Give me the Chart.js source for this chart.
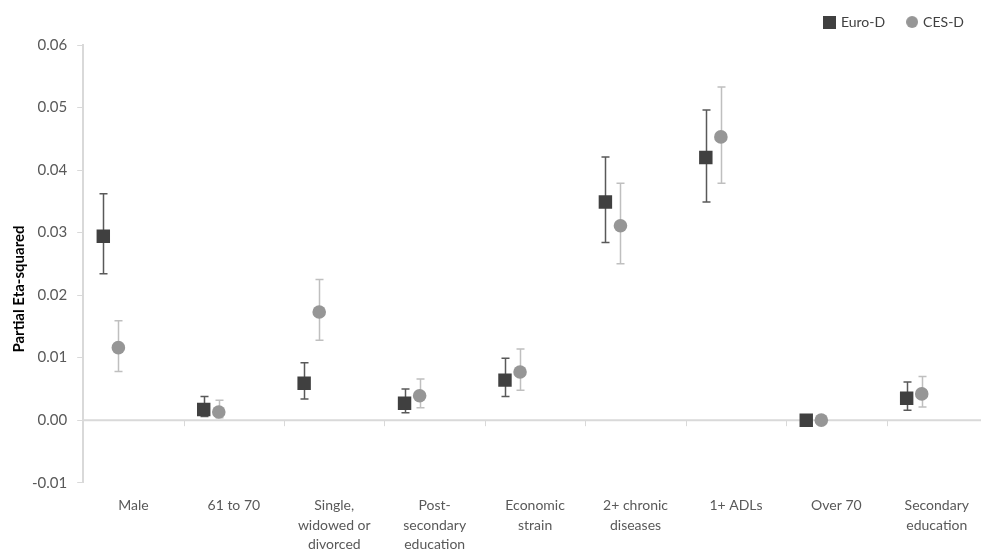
<!DOCTYPE html>
<html>
<head>
<meta charset="utf-8">
<script src="https://cdn.jsdelivr.net/npm/chart.js@4"></script>
<style>
  html, body { margin: 0; padding: 0; background: #ffffff; overflow: hidden; }
  #wrap { width: 981px; height: 556px; position: relative; overflow: hidden; }
</style>
</head>
<body>
<div id="wrap"><canvas id="c" width="1000" height="556"></canvas></div>
<script>
// ---- data ----
const categories = [
  ['Male'],
  ['61 to 70'],
  ['Single,', 'widowed or', 'divorced'],
  ['Post-', 'secondary', 'education'],
  ['Economic', 'strain'],
  ['2+ chronic', 'diseases'],
  ['1+ ADLs'],
  ['Over 70'],
  ['Secondary', 'education']
];
const euroD     = [0.0294, 0.0017, 0.0059, 0.0027, 0.0064, 0.0349, 0.0420, 0.0000, 0.0035];
const euroDLow  = [0.0234, 0.0006, 0.0034, 0.0012, 0.0038, 0.0284, 0.0349, 0.0000, 0.0016];
const euroDHigh = [0.0362, 0.0038, 0.0092, 0.0050, 0.0099, 0.0421, 0.0496, 0.0000, 0.0061];
const cesD      = [0.0116, 0.0013, 0.0173, 0.0039, 0.0077, 0.0311, 0.0453, 0.0000, 0.0042];
const cesDLow   = [0.0078, 0.0004, 0.0128, 0.0020, 0.0048, 0.0250, 0.0379, 0.0000, 0.0021];
const cesDHigh  = [0.0159, 0.0032, 0.0225, 0.0066, 0.0114, 0.0379, 0.0533, 0.0000, 0.0070];
const yTickMin = -0.01, yTickMax = 0.06, yTickStep = 0.01;
const seriesNames = ['Euro-D', 'CES-D'];
const yTitle = 'Partial Eta-squared';

const FONT = 'Lato, "Open Sans", sans-serif';

function makeMarker(shape, size, color) {
  const c = document.createElement('canvas');
  c.width = size; c.height = size;
  const g = c.getContext('2d');
  g.fillStyle = color;
  if (shape === 'rect') {
    g.fillRect(0, 0, size, size);
  } else {
    g.beginPath();
    g.arc(size / 2, size / 2, size / 2, 0, Math.PI * 2);
    g.fill();
  }
  return c;
}
const legendMarkers = [makeMarker('rect', 13, '#404040'), makeMarker('circle', 12, '#969696')];

const errorBars = {
  id: 'errorBars',
  beforeDatasetsDraw(chart) {
    const { ctx, chartArea } = chart;
    const ys = chart.scales.y, xs = chart.scales.x;
    const y0 = ys.getPixelForValue(0);
    ctx.save();
    ctx.strokeStyle = '#d9d9d9';
    ctx.lineWidth = 2;
    ctx.beginPath();
    ctx.moveTo(chartArea.left, y0);
    ctx.lineTo(chartArea.right, y0);
    ctx.stroke();
    ctx.lineWidth = 1;
    ctx.beginPath();
    const n = categories.length;
    for (let i = 0; i < n - 1; i++) {
      const bx = Math.round((xs.getPixelForValue(i) + xs.getPixelForValue(i + 1)) / 2) + 0.5;
      ctx.moveTo(bx, y0);
      ctx.lineTo(bx, y0 + 6);
    }
    ctx.stroke();
    ctx.restore();

    chart.data.datasets.forEach((ds, di) => {
      const meta = chart.getDatasetMeta(di);
      meta.data.forEach((pt, i) => {
        const lo = ds.errLow[i], hi = ds.errHigh[i];
        if (lo === hi) return;
        const x = Math.round(pt.x) + 0.5;
        const y1 = ys.getPixelForValue(lo), y2 = ys.getPixelForValue(hi);
        ctx.save();
        ctx.strokeStyle = ds.errColor;
        ctx.lineWidth = 1.5;
        ctx.beginPath();
        ctx.moveTo(x, y1); ctx.lineTo(x, y2);
        ctx.moveTo(x - 4, y1); ctx.lineTo(x + 4, y1);
        ctx.moveTo(x - 4, y2); ctx.lineTo(x + 4, y2);
        ctx.stroke();
        ctx.restore();
      });
    });
  },
  afterDraw(chart) {
    const { ctx } = chart;
    ctx.save();
    ctx.translate(19, 289);
    ctx.rotate(-Math.PI / 2);
    ctx.font = 'bold 15px ' + FONT;
    ctx.fillStyle = '#000000';
    ctx.textAlign = 'center';
    ctx.textBaseline = 'middle';
    ctx.fillText(yTitle, 0, 0);
    ctx.restore();
  }
};

const euroOffset = -0.3, cesOffset = -0.15;

new Chart(document.getElementById('c'), {
  type: 'scatter',
  data: {
    labels: categories,
    datasets: [
      {
        label: seriesNames[0],
        data: euroD.map((v, i) => ({ x: i + euroOffset, y: v })),
        errLow: euroDLow, errHigh: euroDHigh, errColor: '#595959',
        xAxisID: 'xd',
        pointStyle: 'rect',
        pointRadius: 9.5,
        pointHoverRadius: 9.5,
        backgroundColor: '#404040',
        borderColor: '#404040',
        borderWidth: 0
      },
      {
        label: seriesNames[1],
        data: cesD.map((v, i) => ({ x: i + cesOffset, y: v })),
        errLow: cesDLow, errHigh: cesDHigh, errColor: '#bfbfbf',
        xAxisID: 'xd',
        pointStyle: 'circle',
        pointRadius: 6.8,
        pointHoverRadius: 6.8,
        backgroundColor: '#969696',
        borderColor: '#969696',
        borderWidth: 0
      }
    ]
  },
  options: {
    responsive: false,
    animation: false,
    layout: { padding: { left: 22, right: 13, top: -8, bottom: -3.5 } },
    plugins: {
      legend: {
        position: 'top',
        align: 'end',
        labels: {
          usePointStyle: true,
          boxWidth: 8,
          boxHeight: 12,
          color: '#404040',
          font: { family: FONT, size: 14 },
          padding: 23,
          generateLabels(chart) {
            const items = Chart.defaults.plugins.legend.labels.generateLabels(chart);
            items.forEach((it, i) => { it.pointStyle = legendMarkers[i]; });
            return items;
          }
        }
      },
      subtitle: {
        display: true,
        text: ' ',
        position: 'top',
        weight: 500,
        font: { size: 1, lineHeight: 1 },
        padding: { top: 0, bottom: 5 }
      },
      tooltip: { enabled: false }
    },
    scales: {
      x: {
        type: 'category',
        labels: categories,
        position: 'bottom',
        offset: true,
        grid: { display: false },
        border: { display: false },
        ticks: {
          color: '#595959',
          font: { family: FONT, size: 14, lineHeight: 1.4 },
          maxRotation: 0,
          autoSkip: false,
          padding: 5
        }
      },
      xd: {
        type: 'linear',
        display: false,
        min: -0.5,
        max: categories.length - 0.5
      },
      y: {
        min: yTickMin,
        max: yTickMax,
        ticks: {
          stepSize: yTickStep,
          color: '#595959',
          font: { family: FONT, size: 15 },
          padding: 10,
          callback: v => (Math.abs(v) < 1e-9 ? 0 : v).toFixed(2)
        },
        grid: { drawOnChartArea: false, tickLength: 6, color: '#d9d9d9', lineWidth: 1 },
        border: { color: '#d9d9d9', width: 2 }
      }
    }
  },
  plugins: [errorBars]
});
</script>
</body>
</html>
